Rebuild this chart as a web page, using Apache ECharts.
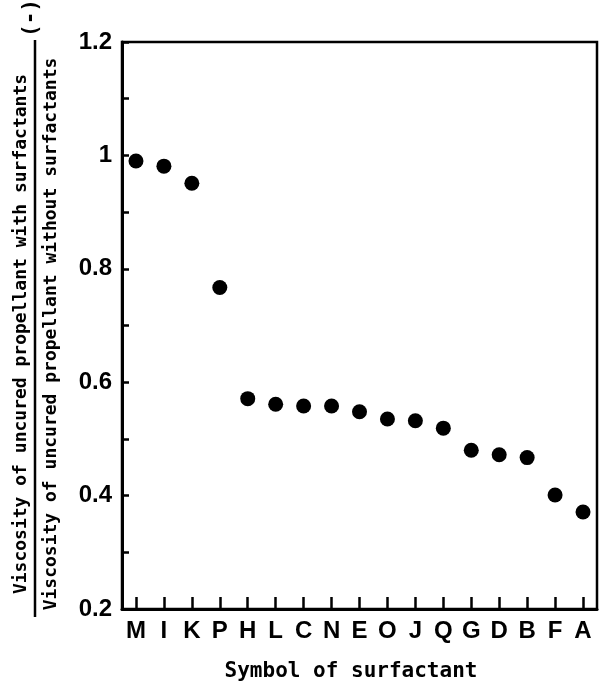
<!DOCTYPE html>
<html>
<head>
<meta charset="utf-8">
<script src="https://cdn.jsdelivr.net/npm/echarts@6/dist/echarts.min.js"></script>
<style>html,body{margin:0;padding:0;background:#fff;}#c{width:602px;height:687px;}</style>
</head>
<body>
<div id="c"></div>
<script>
const categories = ['M','I','K','P','H','L','C','N','E','O','J','Q','G','D','B','F','A'];
const viscosityRatio = [0.990, 0.981, 0.951, 0.767, 0.571, 0.561, 0.558, 0.558, 0.548, 0.535, 0.532, 0.519, 0.480, 0.472, 0.467, 0.401, 0.371];
const yTickLabels = {'0.2':'0.2','0.4':'0.4','0.6':'0.6','0.8':'0.8','1':'1','1.2':'1.2'};
const xAxisTitle = 'Symbol of surfactant';
const yTitleNumerator = 'Viscosity of uncured propellant with surfactants';
const yTitleDenominator = 'Viscosity of uncured propellant without surfactants';
const yTitleUnit = '(-)';

const chart = echarts.init(document.getElementById('c'), null, {renderer:'canvas'});
const monoBold = 'bold 18px "DejaVu Sans Mono"';
chart.setOption({
  animation: false,
  backgroundColor: '#fff',
  grid: {left: 122, right: 5, top: 42, bottom: 75, show: true, borderColor: '#000', borderWidth: 2.5, backgroundColor: 'transparent'},
  xAxis: {
    type: 'category',
    data: categories,
    boundaryGap: true,
    name: xAxisTitle,
    nameLocation: 'middle',
    nameGap: 52,
    nameTextStyle: {fontFamily: 'DejaVu Sans Mono', fontWeight: 'bold', fontSize: 21, color: '#000', padding: [0, 17, 0, 0]},
    axisLine: {show: true, lineStyle: {color: '#000', width: 3}},
    axisTick: {show: true, inside: true, length: 12, alignWithLabel: true, interval: 0, lineStyle: {color: '#000', width: 2.5}},
    axisLabel: {interval: 0, margin: 10, fontFamily: 'Liberation Sans', fontWeight: 'bold', fontSize: 24, color: '#000'},
    splitLine: {show: false}
  },
  yAxis: {
    type: 'value',
    min: 0.2, max: 1.2, interval: 0.1,
    axisLine: {show: true, lineStyle: {color: '#000', width: 3}},
    axisTick: {show: true, inside: true, length: 7, lineStyle: {color: '#000', width: 2.5}},
    axisLabel: {
      margin: 10, fontFamily: 'Liberation Sans', fontWeight: 'bold', fontSize: 24, color: '#000',
      formatter: function (v) {
        const k = String(Math.round(v * 10) / 10);
        return yTickLabels[k] !== undefined ? yTickLabels[k] : '';
      }
    },
    splitLine: {show: false}
  },
  series: [{
    type: 'scatter',
    data: viscosityRatio,
    symbol: 'circle',
    symbolSize: 15,
    itemStyle: {color: '#000', opacity: 1}
  }],
  graphic: [
    {type: 'text', x: 21, y: 334, rotation: Math.PI / 2,
     style: {text: yTitleNumerator, font: monoBold, fill: '#000', textAlign: 'center', textVerticalAlign: 'middle'}},
    {type: 'line', shape: {x1: 35, y1: 40, x2: 35, y2: 617}, style: {stroke: '#000', lineWidth: 2.5}},
    {type: 'text', x: 51, y: 334, rotation: Math.PI / 2,
     style: {text: yTitleDenominator, font: monoBold, fill: '#000', textAlign: 'center', textVerticalAlign: 'middle'}},
    {type: 'text', x: 32, y: 18, rotation: Math.PI / 2,
     style: {text: yTitleUnit, font: 'bold 21px "DejaVu Sans Mono"', fill: '#000', textAlign: 'center', textVerticalAlign: 'middle'}}
  ]
});
</script>
</body>
</html>
